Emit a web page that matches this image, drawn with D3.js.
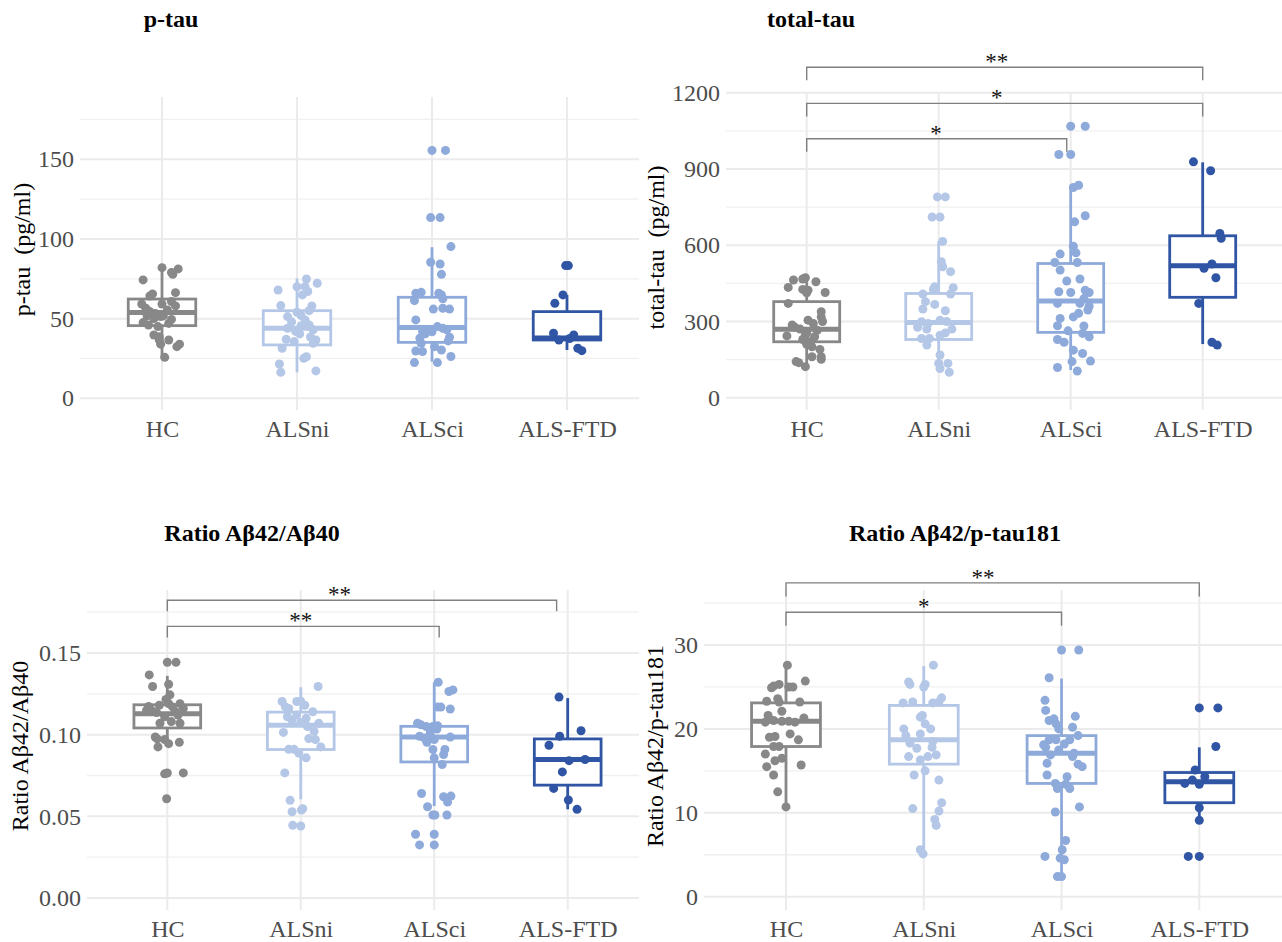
<!DOCTYPE html>
<html>
<head>
<meta charset="utf-8">
<script src="https://cdn.jsdelivr.net/npm/d3@7"></script>
<style>
  body { margin: 0; background: #fff; }
  svg text { font-family: "Liberation Serif", "Times New Roman", serif; }
</style>
</head>
<body>
<div id="chart"></div>
<script>
/*
    Four box + jitter panels for the CSF markers
    points are [value, jitter] with jitter in units of the category step
*/

var groups = ["HC", "ALSni", "ALSci", "ALS-FTD"];
var colors = ["#888888", "#b4c7e7", "#8eaadb", "#2f55a4"];

// ---- p-tau ----
var ptauHC = [[82.0,0.00],[81.2,0.12],[79.0,0.07],[77.8,0.08],[74.3,-0.14],[65.5,-0.07],[64.2,-0.09],[66.3,0.10],
  [59.2,-0.15],[59.2,0.00],[60.7,0.07],[56.5,-0.12],[54.4,-0.09],[53.3,-0.05],[52.3,-0.03],[51.3,-0.01],[51.7,0.01],
  [55.4,0.04],[51.7,-0.11],[47.5,-0.14],[46.0,-0.10],[47.0,0.05],[49.5,0.07],[39.7,-0.06],[38.7,-0.02],[36.6,-0.02],
  [36.6,0.05],[34.0,-0.01],[34.0,0.13],[32.4,0.11],[25.7,0.02],[58.0,0.10],[45.0,-0.03],[50.0,-0.06]];
var ptauALSni = [[74.9,0.07],[72.2,0.15],[70.0,0.00],[70.0,0.06],[68.0,-0.14],[67.0,0.08],[64.9,0.04],[58.2,-0.12],
  [58.0,0.11],[51.3,-0.07],[55.0,0.09],[54.0,0.00],[49.2,0.06],[48.0,-0.04],[46.0,0.09],[44.0,-0.07],[43.0,0.12],
  [40.4,0.02],[37.0,-0.08],[35.6,-0.02],[36.6,0.14],[34.5,0.12],[31.4,-0.11],[25.1,0.05],[26.1,0.07],[21.5,-0.13],
  [16.3,-0.12],[17.2,0.14],[52.0,0.03],[45.5,0.03],[42.0,-0.01],[38.5,0.10]];
var ptauALSci = [[155.6,0.00],[155.6,0.10],[113.4,-0.01],[113.4,0.06],[95.2,0.14],[85.4,-0.01],[84.3,0.06],[77.8,0.07],
  [66.0,-0.12],[66.5,-0.08],[61.3,-0.13],[64.9,0.07],[66.0,0.05],[56.0,0.01],[56.5,0.08],[56.0,0.13],[49.2,-0.12],
  [43.0,-0.03],[41.8,0.00],[45.0,0.04],[43.0,0.11],[42.0,-0.07],[44.0,0.08],[37.7,-0.09],[38.3,0.13],[34.5,-0.08],
  [32.4,0.02],[29.7,-0.12],[29.3,-0.07],[30.3,0.07],[26.2,0.14],[22.4,-0.13],[22.4,0.04],[40.5,-0.05],[36.0,0.12],[62.5,0.08]];
var ptauFTD = [[83.3,-0.01],[83.3,0.01],[64.9,-0.03],[59.6,-0.09],[40.8,-0.10],[39.7,0.05],[36.6,-0.06],[37.5,0.02],
  [31.4,0.08],[29.9,0.11]];
// [lower whisker, q1, median, q3, upper whisker]
var ptauBox = [[26,45.6,53.8,62.3,82],[16.3,33.5,43.9,55,75.3],[23,35.1,44.4,63.4,94.8],[30.3,36.6,37.8,54.4,64.9]];
var ptauTicks = [0, 50, 100, 150];
var ptauMinor = [25, 75, 125, 175];
var ptauBrackets = [];

// ---- total-tau ----
var ttauHC = [[472,-0.01],[467,-0.03],[463,-0.10],[456,0.07],[434,-0.14],[426,-0.03],[423,0.01],[413,0.00],[414,0.14],
  [371,-0.14],[338,0.11],[318,0.11],[305,0.01],[292,0.05],[286,-0.11],[277,-0.09],[243,-0.15],[246,-0.01],[240,0.06],
  [229,-0.03],[220,0.03],[200,0.04],[190,0.10],[161,0.11],[151,0.11],[161,0.04],[142,-0.08],[138,-0.06],[122,-0.01],
  [265,0.08],[270,-0.05],[255,0.00],[300,0.12],[210,0.00]];
var ttauALSni = [[790,-0.01],[790,0.05],[711,-0.05],[711,0.01],[615,0.03],[535,0.02],[515,0.03],[496,0.09],[437,-0.03],
  [426,-0.04],[433,0.11],[408,-0.12],[408,0.09],[378,-0.10],[367,-0.03],[349,-0.12],[342,0.05],[299,-0.13],[292,-0.08],
  [305,0.01],[277,-0.16],[270,-0.09],[270,0.10],[233,-0.13],[233,-0.07],[246,0.01],[207,-0.09],[168,0.01],[135,0.00],
  [135,0.07],[115,0.01],[100,0.08],[300,0.06],[255,0.05]];
var ttauALSci = [[1068,0.00],[1068,0.11],[957,-0.09],[957,0.00],[827,0.02],[836,0.06],[716,0.11],[692,0.03],[596,0.02],
  [570,0.04],[565,-0.08],[532,-0.12],[532,0.05],[502,-0.08],[459,-0.03],[467,0.07],[417,-0.09],[414,0.00],[423,0.11],
  [414,0.14],[371,-0.10],[371,0.07],[360,0.14],[318,0.02],[332,0.06],[312,-0.08],[283,-0.10],[282,0.10],[253,0.09],
  [240,0.14],[263,-0.02],[229,-0.10],[218,-0.05],[187,0.02],[174,0.09],[144,0.15],[119,-0.10],[142,0.01],[105,0.05],
  [390,0.10],[345,0.13]];
var ttauFTD = [[928,-0.07],[893,0.06],[646,0.13],[627,0.14],[509,0.01],[526,0.07],[472,0.10],[371,-0.03],[218,0.07],[207,0.11]];
var ttauBox = [[122,220,269,378,469],[102,229,296,410,616],[109,257,380,528,834],[211,395,519,637,926]];
var ttauTicks = [0, 300, 600, 900, 1200];
var ttauMinor = [150, 450, 750, 1050];
// [from, to, label position, y, label] on the category index axis
var ttauBrackets = [[0,3,1.44,1300,"**"],[0,3,1.44,1158,"*"],[0,1.97,0.98,1019,"*"]];

// ---- Ratio Aβ42/Aβ40 ----
var r1HC = [[0.1443,0.00],[0.1443,0.065],[0.1366,-0.135],[0.1295,-0.11],[0.1309,0.01],[0.1244,0.02],[0.1173,-0.14],
  [0.118,-0.06],[0.119,0.01],[0.119,0.095],[0.116,0.12],[0.115,-0.155],[0.115,-0.12],[0.114,0.06],[0.111,-0.02],
  [0.108,0.03],[0.107,-0.055],[0.107,0.095],[0.0986,-0.09],[0.0974,-0.075],[0.097,-0.02],[0.0945,0.01],[0.0953,0.09],
  [0.0925,-0.07],[0.076,-0.02],[0.0765,0.00],[0.0766,0.12],[0.0608,-0.005],[0.112,0.08],[0.117,0.04],[0.1135,-0.08],[0.1215,-0.01]];
var r1ALSni = [[0.1295,0.13],[0.1203,-0.14],[0.1203,-0.03],[0.1205,0.00],[0.117,-0.115],[0.116,-0.09],[0.118,0.03],
  [0.114,0.09],[0.112,-0.03],[0.111,-0.10],[0.109,-0.065],[0.110,0.04],[0.107,0.135],[0.1014,-0.13],[0.102,0.10],
  [0.0976,0.06],[0.097,0.11],[0.0925,0.15],[0.091,-0.09],[0.091,-0.05],[0.0888,-0.015],[0.0858,0.04],[0.0766,-0.12],
  [0.0598,-0.08],[0.0528,-0.065],[0.0539,0.005],[0.0547,0.015],[0.0445,-0.06],[0.0441,0.00],[0.105,0.05],[0.1075,0.00]];
var r1ALSci = [[0.1321,0.03],[0.1264,0.11],[0.1274,0.14],[0.1169,0.025],[0.1169,0.05],[0.1157,0.12],[0.107,-0.125],
  [0.106,-0.10],[0.105,-0.06],[0.105,-0.01],[0.1055,0.025],[0.099,-0.11],[0.098,-0.075],[0.097,0.00],[0.0986,0.12],
  [0.0953,-0.055],[0.0909,-0.01],[0.0909,0.08],[0.0878,0.07],[0.0858,0.00],[0.0817,0.06],[0.064,-0.095],[0.062,0.07],
  [0.0624,0.125],[0.0587,0.10],[0.0559,-0.05],[0.0508,-0.01],[0.0508,0.005],[0.0508,0.095],[0.039,-0.14],[0.039,0.00],
  [0.0325,-0.11],[0.0325,0.00],[0.1035,0.02],[0.101,-0.03]];
var r1FTD = [[0.123,-0.065],[0.1024,0.10],[0.099,-0.06],[0.0935,-0.14],[0.0841,0.01],[0.0848,0.13],[0.0772,-0.04],
  [0.0671,-0.105],[0.060,0.005],[0.0543,0.07]];
var r1Box = [[0.0933,0.1041,0.1128,0.1183,0.136],[0.0604,0.0909,0.1057,0.1138,0.129],
  [0.0563,0.0833,0.0986,0.1051,0.132],[0.0543,0.0691,0.0848,0.0974,0.1224]];
var r1Ticks = [0, 0.05, 0.10, 0.15];
var r1Minor = [0.025, 0.075, 0.125, 0.175];
var r1Brackets = [[0,2.917,1.29,0.1823,"**"],[0,2.037,1.0,0.1663,"**"]];

// ---- Ratio Aβ42/p-tau181 ----
var r2HC = [[27.6,0.01],[25.7,0.14],[24.9,-0.105],[25.1,-0.09],[25.3,-0.05],[25.0,0.02],[25.0,0.05],[23.3,-0.14],
  [23.6,-0.06],[23.2,-0.05],[23.2,0.10],[22.1,-0.03],[21.6,-0.13],[20.8,-0.15],[21.0,-0.09],[20.9,-0.03],[20.9,0.02],
  [20.8,0.065],[21.3,0.13],[19.0,-0.12],[19.1,-0.08],[19.4,0.03],[18.7,0.09],[17.9,-0.09],[17.9,-0.05],[17.0,-0.15],
  [16.2,-0.08],[16.5,-0.03],[15.7,0.11],[15.5,-0.14],[14.5,-0.09],[12.5,-0.06],[10.7,0.00]];
var r2ALSni = [[27.6,0.07],[25.6,-0.11],[25.3,-0.10],[25.0,0.00],[25.3,0.01],[23.1,-0.15],[23.2,-0.08],[23.1,0.065],
  [23.7,0.13],[23.2,0.11],[21.6,-0.01],[21.4,-0.025],[20.6,0.01],[20.0,0.05],[20.0,-0.145],[19.2,-0.13],[19.4,-0.025],
  [18.3,-0.10],[17.7,-0.05],[18.5,0.065],[17.8,0.06],[16.7,-0.11],[16.3,-0.025],[16.7,0.03],[16.9,0.09],[14.5,-0.07],
  [15.0,0.01],[13.9,0.11],[10.5,-0.08],[11.2,0.13],[10.2,0.11],[9.2,0.08],[8.5,0.09],[5.6,-0.025],[5.1,-0.005]];
var r2ALSci = [[29.4,0.00],[29.4,0.125],[26.1,-0.09],[23.4,-0.12],[22.2,-0.115],[21.0,-0.09],[21.2,-0.055],[20.6,-0.04],
  [20.0,-0.02],[21.5,0.10],[20.2,0.08],[19.2,0.12],[18.7,-0.09],[18.7,-0.04],[18.7,0.06],[18.2,0.02],[18.1,-0.13],
  [17.8,-0.115],[17.5,-0.02],[16.9,-0.08],[17.1,0.09],[16.7,0.08],[15.9,-0.105],[15.8,0.12],[15.5,0.15],[14.5,-0.105],
  [14.3,0.04],[13.5,-0.045],[13.4,0.03],[12.9,-0.03],[12.9,0.06],[10.7,0.13],[10.1,-0.045],[6.7,0.03],[5.6,0.005],
  [4.8,-0.12],[4.6,-0.01],[4.4,0.02],[2.4,-0.03],[2.4,0.00]];
var r2FTD = [[22.5,0.00],[22.5,0.135],[17.9,0.12],[15.1,-0.03],[14.3,0.04],[13.5,-0.105],[13.9,-0.05],[13.4,0.00],
  [10.6,0.00],[9.1,0.00],[4.8,-0.08],[4.8,0.00]];
var r2Box = [[10.7,17.9,20.9,23.1,27.6],[5.2,15.8,18.7,22.8,27.5],[2.4,13.5,17.1,19.2,26.0],[9.1,11.2,13.7,14.8,17.8]];
var r2Ticks = [0, 10, 20, 30];
var r2Minor = [5, 15, 25, 35];
var r2Brackets = [[0,3,1.43,37.4,"**"],[0,2.0,1.0,33.9,"*"]];

// panel layouts (pixels) + the data hooked onto them
var panels = [
  { title: "p-tau", titleX: 171, titleY: 27, yTitle: "p-tau\u00a0\u00a0(pg/ml)", yTitleX: 22,
    left: 80, right: 639, top: 97, bottom: 410, x0: 162, x1: 567,
    yDomain: [0, 150], yRange: [398.3, 159.3], fmt: "d", tip: 13,
    points: [ptauHC, ptauALSni, ptauALSci, ptauFTD], box: ptauBox,
    ticks: ptauTicks, minor: ptauMinor, brackets: ptauBrackets },
  { title: "total-tau", titleX: 811, titleY: 27, yTitle: "total-tau\u00a0\u00a0(pg/ml)", yTitleX: 656,
    left: 726, right: 1282, top: 93, bottom: 410, x0: 806.7, x1: 1202.7,
    yDomain: [0, 1200], yRange: [397.7, 92.7], fmt: "d", tip: 13,
    points: [ttauHC, ttauALSni, ttauALSci, ttauFTD], box: ttauBox,
    ticks: ttauTicks, minor: ttauMinor, brackets: ttauBrackets },
  { title: "Ratio A\u03b242/A\u03b240", titleX: 252, titleY: 541, yTitle: "Ratio A\u03b242/A\u03b240", yTitleX: 20,
    left: 87, right: 639, top: 590, bottom: 910, x0: 167.3, x1: 567.7,
    yDomain: [0, 0.15], yRange: [898, 653], fmt: ".2f", tip: 11,
    points: [r1HC, r1ALSni, r1ALSci, r1FTD], box: r1Box,
    ticks: r1Ticks, minor: r1Minor, brackets: r1Brackets },
  { title: "Ratio A\u03b242/p-tau181", titleX: 955, titleY: 541, yTitle: "Ratio A\u03b242/p-tau181", yTitleX: 655,
    left: 704, right: 1282, top: 590, bottom: 910, x0: 786, x1: 1199.3,
    yDomain: [0, 30], yRange: [896.7, 645], fmt: "d", tip: 13.5,
    points: [r2HC, r2ALSni, r2ALSci, r2FTD], box: r2Box,
    ticks: r2Ticks, minor: r2Minor, brackets: r2Brackets }
];

var svg = d3.select("#chart").append("svg")
    .attr("width", 1282)
    .attr("height", 942);

panels.forEach(function(p) {
    var g = svg.append("g");

    var x = d3.scalePoint().domain(groups).range([p.x0, p.x1]);
    var step = x.step();
    var y = d3.scaleLinear().domain(p.yDomain).range(p.yRange);
    // category index -> pixel, for brackets
    var xi = d3.scaleLinear().domain([0, 3]).range([p.x0, p.x1]);

    // grid
    g.selectAll(".minor").data(p.minor.filter(function(v){ return y(v) >= p.top && y(v) <= p.bottom; }))
      .enter().append("line")
        .attr("x1", p.left).attr("x2", p.right)
        .attr("y1", function(d){ return y(d); }).attr("y2", function(d){ return y(d); })
        .style("stroke", "#f0f0f0").style("stroke-width", 1.3);
    g.selectAll(".major").data(p.ticks)
      .enter().append("line")
        .attr("x1", p.left).attr("x2", p.right)
        .attr("y1", function(d){ return y(d); }).attr("y2", function(d){ return y(d); })
        .style("stroke", "#ebebeb").style("stroke-width", 2);
    g.selectAll(".vgrid").data(groups)
      .enter().append("line")
        .attr("x1", function(d){ return x(d); }).attr("x2", function(d){ return x(d); })
        .attr("y1", p.top).attr("y2", p.bottom)
        .style("stroke", "#ebebeb").style("stroke-width", 2);

    // axes
    var yAxis = g.append("g")
        .attr("transform", "translate(" + p.left + ",0)")
        .call(d3.axisLeft(y).tickValues(p.ticks).tickSize(0).tickPadding(6).tickFormat(d3.format(p.fmt)));
    var xAxis = g.append("g")
        .attr("transform", "translate(0," + p.bottom + ")")
        .call(d3.axisBottom(x).tickSize(0).tickPadding(10));
    [yAxis, xAxis].forEach(function(a) {
        a.select(".domain").remove();
        a.attr("font-family", null);
        a.selectAll("text")
            .style("font-family", "'Liberation Serif', 'Times New Roman', serif")
            .style("font-size", "24px")
            .style("fill", "#4d4d4d");
    });

    // titles
    g.append("text")
        .attr("x", p.titleX).attr("y", p.titleY)
        .attr("text-anchor", "middle")
        .style("font-size", "24px").style("font-weight", "bold")
        .text(p.title);
    g.append("text")
        .attr("transform", "translate(" + p.yTitleX + "," + ((p.top + p.bottom) / 2 - 4) + ") rotate(-90)")
        .attr("text-anchor", "middle")
        .attr("dy", "0.35em")
        .style("font-size", "24px")
        .text(p.yTitle);

    // boxes
    var bw = step * 0.25;
    groups.forEach(function(grp, i) {
        var b = p.box[i], cx = x(grp), col = colors[i];
        g.append("line")
            .attr("x1", cx).attr("x2", cx).attr("y1", y(b[0])).attr("y2", y(b[4]))
            .style("stroke", col).style("stroke-width", 2.8);
        g.append("rect")
            .attr("x", cx - bw).attr("width", bw * 2)
            .attr("y", y(b[3])).attr("height", y(b[1]) - y(b[3]))
            .style("fill", "#fff").style("stroke", col).style("stroke-width", 2.8);
        g.append("line")
            .attr("x1", cx - bw).attr("x2", cx + bw).attr("y1", y(b[2])).attr("y2", y(b[2]))
            .style("stroke", col).style("stroke-width", 5);

        g.selectAll(".pt" + i).data(p.points[i])
          .enter().append("circle")
            .attr("cx", function(d){ return cx + d[1] * step; })
            .attr("cy", function(d){ return y(d[0]); })
            .attr("r", 4.5)
            .style("fill", col);
    });

    // significance brackets
    p.brackets.forEach(function(br) {
        var yy = y(br[3]);
        g.append("path")
            .attr("d", "M" + xi(br[0]) + "," + (yy + p.tip) + "V" + yy + "H" + xi(br[1]) + "V" + (yy + p.tip))
            .style("fill", "none").style("stroke", "#808080").style("stroke-width", 1.4);
        g.append("text")
            .attr("x", xi(br[2])).attr("y", yy + 2)
            .attr("text-anchor", "middle")
            .style("font-size", "23px").style("fill", "#111")
            .text(br[4]);
    });
});
</script>
</body>
</html>
